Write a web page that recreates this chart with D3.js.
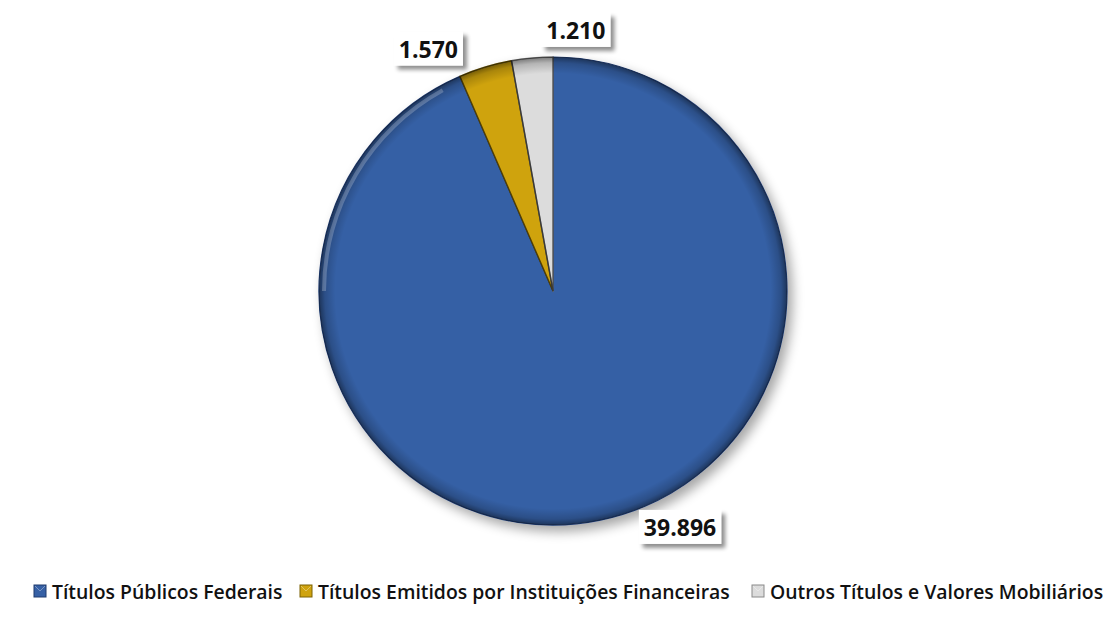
<!DOCTYPE html>
<html>
<head>
<meta charset="utf-8">
<script src="https://cdn.jsdelivr.net/npm/d3@7"></script>
<style>
  html,body{margin:0;padding:0;background:#ffffff;}
  svg{display:block;}
</style>
</head>
<body>
<script>
// ---- data ----
const categories = ["Títulos Públicos Federais", "Títulos Emitidos por Instituições Financeiras", "Outros Títulos e Valores Mobiliários"];
const values = [39896, 1570, 1210];
const valueLabels = ["39.896", "1.570", "1.210"];
const colors = ["#3660a5", "#cfa30f", "#dcdcdc"];
const rimColors = ["#1f3a6e", "#7d6205", "#8a8a8a"];

const W = 1109, H = 619;
const cx = 553, cy = 291, R = 234;

const svg = d3.select("body").append("svg").attr("width", W).attr("height", H);
const defs = svg.append("defs");

// soft drop shadow
const sh = defs.append("filter").attr("id","shadow").attr("x","-20%").attr("y","-20%").attr("width","140%").attr("height","140%");
sh.append("feGaussianBlur").attr("in","SourceAlpha").attr("stdDeviation",6);
sh.append("feOffset").attr("dx",5).attr("dy",6).attr("result","ob");
sh.append("feComponentTransfer").append("feFuncA").attr("type","linear").attr("slope",0.35);
const m = sh.append("feMerge"); m.append("feMergeNode"); m.append("feMergeNode").attr("in","SourceGraphic");

const lsh = defs.append("filter").attr("id","lshadow").attr("x","-30%").attr("y","-30%").attr("width","160%").attr("height","160%");
lsh.append("feGaussianBlur").attr("in","SourceAlpha").attr("stdDeviation",2);
lsh.append("feOffset").attr("dx",4).attr("dy",4).attr("result","ob");
lsh.append("feComponentTransfer").append("feFuncA").attr("type","linear").attr("slope",0.45);
const m2 = lsh.append("feMerge"); m2.append("feMergeNode"); m2.append("feMergeNode").attr("in","SourceGraphic");

// rim darkening gradient
const rg = defs.append("radialGradient").attr("id","rim").attr("gradientUnits","userSpaceOnUse")
  .attr("cx",0).attr("cy",0).attr("r",R);
rg.append("stop").attr("offset","0.93").attr("stop-color","#000").attr("stop-opacity",0);
rg.append("stop").attr("offset","0.975").attr("stop-color","#000").attr("stop-opacity",0.18);
rg.append("stop").attr("offset","1").attr("stop-color","#000").attr("stop-opacity",0.45);

const pie = d3.pie().sort(null).value(d => d)(values);
const arc = d3.arc().innerRadius(0).outerRadius(R);

const g = svg.append("g").attr("transform", `translate(${cx},${cy})`);
const sg = g.append("g").attr("filter","url(#shadow)");
sg.selectAll("path.slice").data(pie).join("path")
  .attr("class","slice")
  .attr("d", arc)
  .attr("fill", (d,i) => colors[i])
  .attr("stroke", (d,i) => rimColors[i])
  .attr("stroke-width", 1.2)
  .attr("stroke-linejoin","round");

// rim shading overlay
g.append("circle").attr("cx",0).attr("cy",0).attr("r",R)
  .attr("fill","url(#rim)").style("pointer-events","none");

// highlight band on upper-left rim
g.append("path")
  .attr("d", d3.arc().innerRadius(R-7).outerRadius(R-3).startAngle(-Math.PI*0.5).endAngle(-Math.PI*0.16)())
  .attr("fill","#ffffff").attr("opacity",0.22);

// inner edges shading for small slices (bevel look)
g.selectAll("path.bev").data(pie.slice(1)).join("path")
  .attr("class","bev")
  .attr("d", arc)
  .attr("fill","none")
  .attr("stroke","#000").attr("stroke-opacity",0.35).attr("stroke-width",1.5);

// ---- labels ----
// label anchor: polar placement outside the pie (angle in degrees clockwise from top, radius factor)
const labelPolar = [[151.7, 1.145], [332.8, 1.165], [5.0, 1.12]];
const lg = svg.append("g");
pie.forEach((d,i) => {
  const a = labelPolar[i][0] * Math.PI/180, rr = R * labelPolar[i][1];
  const x = cx + rr*Math.sin(a), y = cy - rr*Math.cos(a);
  const grp = lg.append("g").attr("transform",`translate(${x},${y})`);
  const t = grp.append("text").text(valueLabels[i])
    .attr("text-anchor","middle").attr("dominant-baseline","central")
    .attr("font-family","'Open Sans', 'Noto Sans', sans-serif")
    .attr("font-weight","bold").attr("font-size",23).attr("fill","#111");
  const bb = t.node().getBBox();
  grp.insert("rect","text")
    .attr("x", bb.x - 5).attr("y", bb.y - 1)
    .attr("width", bb.width + 10).attr("height", bb.height + 2)
    .attr("fill","#fff").attr("filter","url(#lshadow)");
});

// ---- legend ----
const legendX = [34, 300, 752];
const leg = svg.append("g");
categories.forEach((c,i) => {
  const lx = legendX[i], ly = 591;
  const sq = leg.append("g");
  sq.append("rect").attr("x",lx).attr("y",ly-6).attr("width",12).attr("height",12).attr("fill",colors[i]).attr("stroke",rimColors[i]).attr("stroke-width",1);
  sq.append("path").attr("d",`M${lx+1},${ly-5} L${lx+6},${ly} L${lx+11},${ly-5}`).attr("fill","none").attr("stroke","#fff").attr("stroke-opacity",0.35).attr("stroke-width",1);
  leg.append("text").text(c).attr("x",lx+18).attr("y",ly)
    .attr("dominant-baseline","central")
    .attr("font-family","'Open Sans', 'Noto Sans', sans-serif")
    .attr("font-weight",600)
    .attr("font-size",19.4).attr("fill","#111");
});
</script>
</body>
</html>
